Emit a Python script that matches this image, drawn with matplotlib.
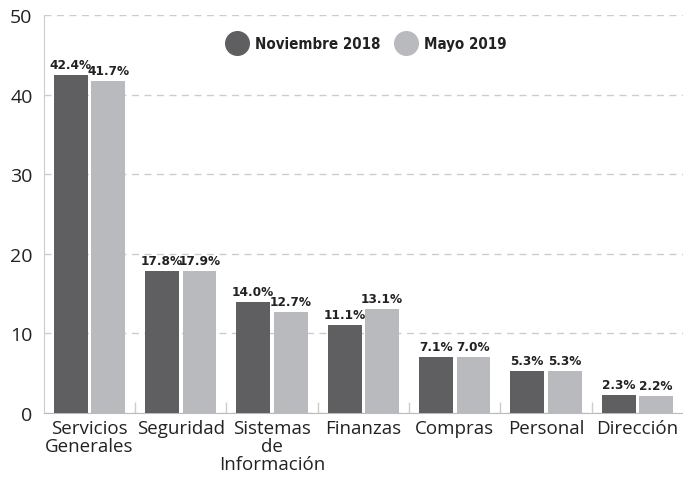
import numpy as np
import matplotlib.pyplot as plt
from matplotlib.lines import Line2D
from matplotlib import font_manager

categories = ['Servicios\nGenerales', 'Seguridad', 'Sistemas\nde\nInformación',
              'Finanzas', 'Compras', 'Personal', 'Dirección']
nov_2018 = [42.4, 17.8, 14.0, 11.1, 7.1, 5.3, 2.3]
may_2019 = [41.7, 17.9, 12.7, 13.1, 7.0, 5.3, 2.2]
series_names = ['Noviembre 2018', 'Mayo 2019']

dark = '#5f5f61'
light = '#b9babd'


def weight_num(w):
    if isinstance(w, str):
        return font_manager.weight_dict.get(w, 400)
    return w


# find a bold narrow face, fall back to DejaVu Sans Bold
cands = []
for f in font_manager.fontManager.ttflist:
    narrowish = ('Narrow' in f.name or 'Condensed' in f.name
                 or f.stretch in ('condensed', 'extra-condensed', 'semi-condensed'))
    if narrowish and f.style == 'normal' and 600 <= weight_num(f.weight) <= 800:
        rank = 0 if 'Liberation' in f.name else (1 if f.stretch == 'condensed' else 2)
        cands.append((rank, f.fname))
cands.sort()
if cands:
    bold_fp = font_manager.FontProperties(fname=cands[0][1])
    bar_size, leg_size = 9.7, 10.8
else:
    bold_fp = font_manager.FontProperties(family='DejaVu Sans', weight='bold')
    bar_size, leg_size = 8.5, 9.5

fig = plt.figure(figsize=(6.83, 4.81), dpi=100)
ax = fig.add_axes([0.064, 0.139, 0.936, 0.828])

x = np.arange(len(categories))
w = 0.37
off = 0.205
b1 = ax.bar(x - off, nov_2018, w, color=dark, zorder=3)
b2 = ax.bar(x + off, may_2019, w, color=light, zorder=3)

for bars, vals in ((b1, nov_2018), (b2, may_2019)):
    for b, v in zip(bars, vals):
        ax.text(b.get_x() + b.get_width() / 2, v + 0.5, f'{v:.1f}%',
                ha='center', va='bottom', fontproperties=bold_fp, fontsize=bar_size,
                color='#222222')

ax.set_xlim(-0.5, len(categories) - 0.5)
ax.set_ylim(0, 50)
ax.set_yticks([0, 10, 20, 30, 40, 50])
ax.set_xticks(x)
ax.set_xticklabels(categories, fontsize=13.5, family='Open Sans', color='#222222',
                   linespacing=1.0)
ax.set_xticks(np.arange(0.5, len(categories) - 0.5), minor=True)
ax.tick_params(axis='x', which='major', length=0, pad=4)
ax.tick_params(axis='x', which='minor', direction='in', length=8, color='#cccccc', width=1)
ax.tick_params(axis='y', length=0, labelsize=14, pad=8, labelcolor='#222222')
for lab in ax.get_yticklabels():
    lab.set_family('Open Sans')

ax.yaxis.grid(True, linestyle=(0, (5, 4)), color='#cccccc', linewidth=1, zorder=0)
for s in ['top', 'right']:
    ax.spines[s].set_visible(False)
ax.spines['left'].set_color('#cccccc')
ax.spines['bottom'].set_color('#bbbbbb')

leg_fp = bold_fp.copy()
leg_fp.set_size(leg_size)
handles = [Line2D([], [], marker='o', linestyle='', markersize=17, color=c)
           for c in (dark, light)]
leg = ax.legend(handles, series_names, loc='center', bbox_to_anchor=(0.505, 0.927),
                ncol=2, frameon=False, handletextpad=0.5, columnspacing=1.0,
                handlelength=1.4, prop=leg_fp)
for t in leg.get_texts():
    t.set_color('#222222')

fig.savefig('out.png', dpi=100)
